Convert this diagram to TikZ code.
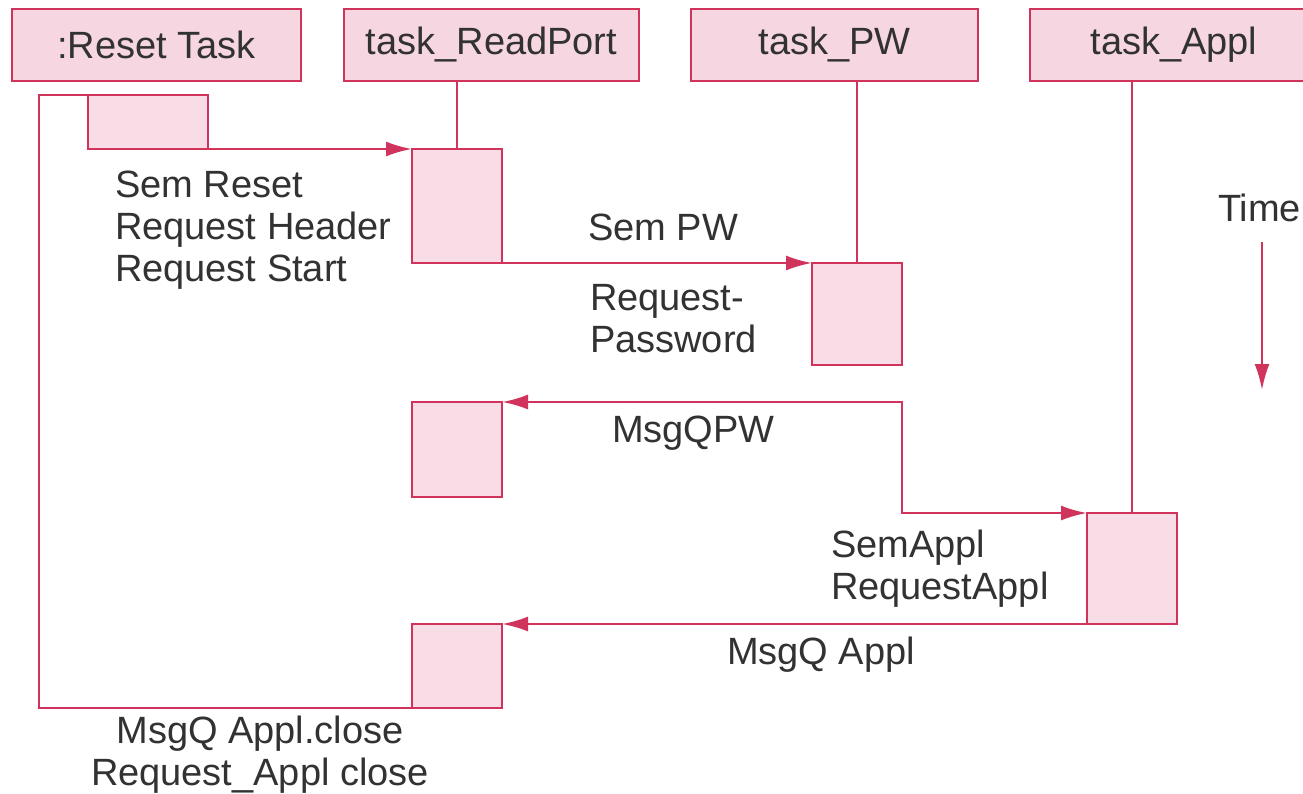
\documentclass[tikz,border=0pt]{standalone}
\usepackage{fontspec}
\setmainfont{Liberation Sans}
\usetikzlibrary{arrows.meta}
\definecolor{ln}{RGB}{208,52,92}
\definecolor{actfill}{RGB}{248,221,231}
\definecolor{hdrfill}{RGB}{246,214,225}
\definecolor{txt}{RGB}{50,50,50}
\newcommand\lblfont{\fontsize{38}{42}\selectfont}
\tikzset{
  hdr/.style={draw=ln, fill=hdrfill, line width=2.4pt, inner sep=0pt, outer sep=0pt, text=txt, font=\lblfont, anchor=north west, minimum height=72pt},
  act/.style={draw=ln, fill=actfill, line width=2.4pt, inner sep=0pt, outer sep=0pt, anchor=north west},
  life/.style={draw=ln, line width=2.4pt},
  msg/.style={draw=ln, line width=2.4pt, -{Latex[length=26pt,width=15pt]}},
  twoway/.style={draw=ln, line width=2.4pt, {Latex[length=26pt,width=15pt]}-{Latex[length=26pt,width=15pt]}},
  lbl/.style={inner sep=0pt, outer sep=0pt, text=txt, font=\lblfont, align=left}
}
\begin{document}
\begin{tikzpicture}[x=1pt,y=-1pt]
\useasboundingbox (0,0) rectangle (1303,794);
\fill[white] (0,0) rectangle (1303,794);
% headers
\node[hdr, minimum width=289pt] (hR)  at (12,9)   {:Reset Task};
\node[hdr, minimum width=295pt] (hRP) at (344,9)  {task\_ReadPort};
\node[hdr, minimum width=287pt] (hPW) at (691,9)  {task\_PW};
\node[hdr, minimum width=288pt] (hA)  at (1030,9) {task\_Appl};
% activation boxes
\node[act, minimum width=120pt, minimum height=54pt]  (r1)  at (88,95)   {};
\node[act, minimum width=90pt,  minimum height=114pt] (a1)  at (412,149) {};
\node[act, minimum width=90pt,  minimum height=102pt] (pw1) at (812,263) {};
\node[act, minimum width=90pt,  minimum height=95pt]  (a2)  at (412,402) {};
\node[act, minimum width=90pt,  minimum height=111pt] (ap)  at (1087,513) {};
\node[act, minimum width=90pt,  minimum height=84pt]  (a3)  at (412,624) {};
% lifelines
\draw[life] (r1.north west) -- ++(-49,0) |- (a3.south west);
\draw[life] (a1.north) -- (a1.north |- hRP.south);
\draw[life] (pw1.north) -- (pw1.north |- hPW.south);
\draw[life] (ap.north) -- (ap.north |- hA.south);
% messages
\draw[msg] (r1.south east) -- (a1.north west);
\draw[msg] (a1.south east) -- (pw1.north west);
\draw[twoway] (a2.north east) -- (a2.north east -| pw1.east) |- (ap.north west);
\draw[msg] (ap.south west) -- (a3.north east);
% time
\node[lbl, anchor=base west] (time) at (1218,222) {Time};
\coordinate (t1) at (1262,242);
\coordinate (t2) at (1262,390);
\draw[msg] (t1) -- (t2);
% labels
\node[lbl, anchor=north west] (l1) at (115,171) {Sem Reset\\Request Header\\Request Start};
\node[lbl, anchor=base west] (l2) at (588,241) {Sem PW};
\node[lbl, anchor=north west] (l3) at (590,284) {Request-\\Password};
\node[lbl, anchor=base west] (l4) at (612,442) {MsgQPW};
\node[lbl, anchor=north west] (l5) at (831,530) {SemAppl\\RequestAppl};
\node[lbl, anchor=base west] (l6) at (727,664) {MsgQ Appl};
\node[lbl, align=center, anchor=north] (l7) at (260,716) {MsgQ Appl.close\\Request\_Appl close};
\end{tikzpicture}
\end{document}
